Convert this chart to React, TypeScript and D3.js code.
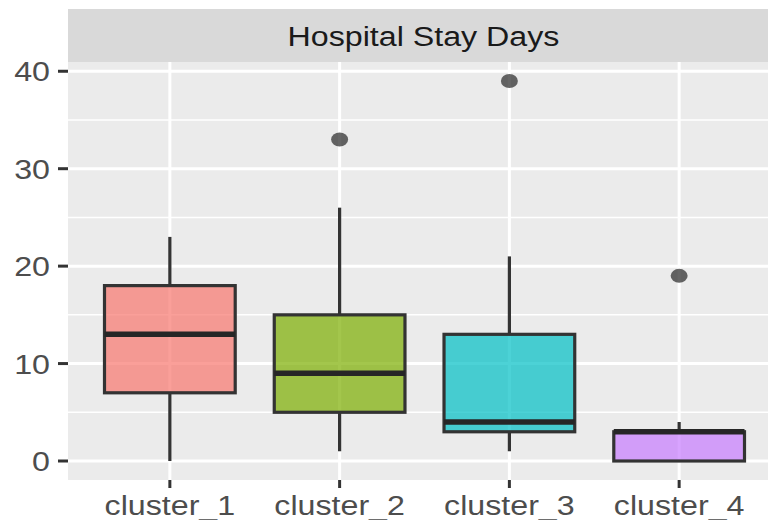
import React from 'react'
import * as d3 from 'd3'

// box stats
const clusters = ['cluster_1', 'cluster_2', 'cluster_3', 'cluster_4']
const lowWhisker = [0, 1, 1, 0]
const q1 = [7, 5, 3, 0]
const median = [13, 9, 4, 3]
const q3 = [18, 15, 13, 3]
const highWhisker = [23, 26, 21, 4]
const outliers = [[], [33], [39], [19]]
const colors = ['#F8766D', '#7CAE00', '#00BFC4', '#C77CFF']

const yTicks = [0, 10, 20, 30, 40]
const yMinor = [5, 15, 25, 35]
const title = 'Hospital Stay Days'

const W = 768
const H = 520
const PANEL = { LEFT: 68, RIGHT: 781, TOP: 62, BOTTOM: 480 }
const STRIP_TOP = 9
const SX = 1.15 // picture was stretched sideways
const FONT = '"Liberation Sans", Arial, sans-serif'

export default function App() {
  const x = d3.scalePoint<string>()
    .domain(clusters)
    .range([PANEL.LEFT, PANEL.RIGHT])
    .padding(0.6)
  const y = d3.scaleLinear()
    .domain([-1.95, 40.95])
    .range([PANEL.BOTTOM, PANEL.TOP])
  const boxW = x.step() * 0.77

  return (
    <svg width={W} height={H} style={{ position: 'absolute', left: 0, top: 0, background: '#fff' }}>
      <defs>
        <clipPath id="panel-clip">
          <rect x={PANEL.LEFT} y={PANEL.TOP} width={PANEL.RIGHT - PANEL.LEFT} height={PANEL.BOTTOM - PANEL.TOP} />
        </clipPath>
      </defs>

      {/* strip */}
      <rect x={PANEL.LEFT} y={STRIP_TOP} width={PANEL.RIGHT - PANEL.LEFT} height={PANEL.TOP - STRIP_TOP} fill="#D9D9D9" />
      <text
        transform={`translate(${(PANEL.LEFT + PANEL.RIGHT) / 2 - 1},${(STRIP_TOP + PANEL.TOP) / 2 + 10}) scale(${SX},1)`}
        textAnchor="middle" fontFamily={FONT} fontSize={28} fill="#1A1A1A"
      >{title}</text>

      {/* panel */}
      <rect x={PANEL.LEFT} y={PANEL.TOP} width={PANEL.RIGHT - PANEL.LEFT} height={PANEL.BOTTOM - PANEL.TOP} fill="#EBEBEB" />
      <g clipPath="url(#panel-clip)">
        {yMinor.map(v => (
          <line key={'mn' + v} x1={PANEL.LEFT} x2={PANEL.RIGHT} y1={y(v)} y2={y(v)} stroke="#fff" strokeWidth={1.5} />
        ))}
        {yTicks.map(v => (
          <line key={'mj' + v} x1={PANEL.LEFT} x2={PANEL.RIGHT} y1={y(v)} y2={y(v)} stroke="#fff" strokeWidth={3} />
        ))}
        {clusters.map(c => (
          <line key={'vx' + c} x1={x(c)} x2={x(c)} y1={PANEL.TOP} y2={PANEL.BOTTOM} stroke="#fff" strokeWidth={3} />
        ))}

        {clusters.map((c, i) => {
          const cx = x(c) as number
          return (
            <g key={c}>
              <line x1={cx} x2={cx} y1={y(q3[i])} y2={y(highWhisker[i])} stroke="#333" strokeWidth={3.2} />
              <line x1={cx} x2={cx} y1={y(q1[i])} y2={y(lowWhisker[i])} stroke="#333" strokeWidth={3.2} />
              <rect
                x={cx - boxW / 2} y={y(q3[i])} width={boxW} height={y(q1[i]) - y(q3[i])}
                fill={colors[i]} fillOpacity={0.7} stroke="#333" strokeWidth={3.2}
              />
              <line x1={cx - boxW / 2} x2={cx + boxW / 2} y1={y(median[i])} y2={y(median[i])} stroke="#262626" strokeWidth={5.5} />
              {outliers[i].map(v => (
                <ellipse key={v} cx={cx} cy={y(v)} rx={8.5} ry={7} fill="#333" fillOpacity={0.75} />
              ))}
            </g>
          )
        })}
      </g>

      {/* y axis */}
      {yTicks.map(v => (
        <g key={'yt' + v}>
          <line x1={PANEL.LEFT - 10} x2={PANEL.LEFT} y1={y(v)} y2={y(v)} stroke="#333" strokeWidth={3} />
          <text
            transform={`translate(${PANEL.LEFT - 18},${y(v) + 10}) scale(${SX},1)`}
            textAnchor="end" fontFamily={FONT} fontSize={28} fill="#4D4D4D"
          >{v}</text>
        </g>
      ))}

      {/* x axis */}
      {clusters.map(c => (
        <g key={'xt' + c}>
          <line x1={x(c)} x2={x(c)} y1={PANEL.BOTTOM} y2={PANEL.BOTTOM + 8} stroke="#333" strokeWidth={3} />
          <text
            transform={`translate(${x(c)},${PANEL.BOTTOM + 35}) scale(${SX},1)`}
            textAnchor="middle" fontFamily={FONT} fontSize={28} fill="#4D4D4D"
          >{c}</text>
        </g>
      ))}
    </svg>
  )
}
